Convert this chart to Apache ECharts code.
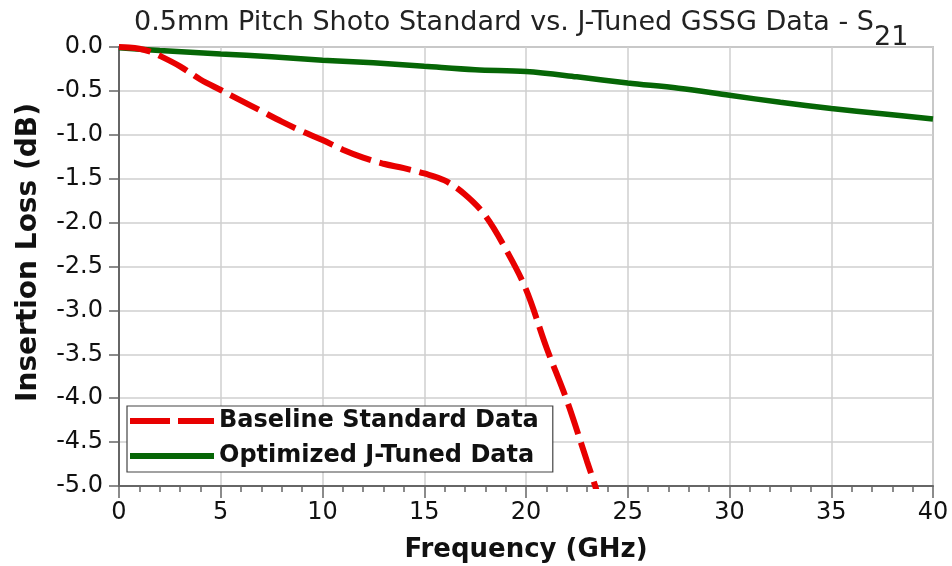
<!DOCTYPE html>
<html>
<head>
<meta charset="utf-8">
<script src="https://cdn.jsdelivr.net/npm/echarts@6/dist/echarts.min.js"></script>
<style>
html,body{margin:0;padding:0;background:#fff;}
#chart{width:952px;height:566px;}
</style>
</head>
<body>
<div id="chart"></div>
<script>
// Data
const baselineFreq = [0, 0.5, 1, 1.5, 2, 3, 4, 5, 6, 7, 8, 9, 10, 11, 12, 13, 14, 15, 16, 17, 18, 19, 20, 21, 22, 23, 23.4, 23.7];
const baselineLoss = [0, -0.005, -0.02, -0.05, -0.1, -0.22, -0.37, -0.49, -0.61, -0.73, -0.85, -0.96, -1.06, -1.17, -1.26, -1.33, -1.38, -1.44, -1.52, -1.68, -1.92, -2.3, -2.76, -3.42, -4.02, -4.72, -5.0, -5.25];
const optimizedFreq = [0, 2, 5, 7.5, 10, 12.5, 15, 17.5, 20, 22.5, 25, 27.5, 30, 32.5, 35, 37.5, 40];
const optimizedLoss = [-0.01, -0.04, -0.08, -0.11, -0.15, -0.18, -0.22, -0.26, -0.28, -0.34, -0.41, -0.47, -0.55, -0.63, -0.70, -0.76, -0.82];
const seriesNames = ['Baseline Standard Data', 'Optimized J-Tuned Data'];
const titleMain = '0.5mm Pitch Shoto Standard vs. J-Tuned GSSG Data - S';
const titleSub = '21';
const xName = 'Frequency (GHz)';
const yName = 'Insertion Loss (dB)';

const zip = (xs, ys) => xs.map((x, i) => [x, ys[i]]);
const FONT = '"DejaVu Sans", "Liberation Sans", Arial, sans-serif';
const RED = '#e80000';
const GREEN = '#066606';

const chart = echarts.init(document.getElementById('chart'));
chart.setOption({
  backgroundColor: '#fff',
  animation: false,
  title: {
    text: '{m|' + titleMain + '}{s|' + titleSub + '}',
    left: 129, top: 4,
    textStyle: {
      rich: {
        m: {fontFamily: FONT, fontSize: 27, color: '#222', fontWeight: 'normal', lineHeight: 32, verticalAlign: 'top'},
        s: {fontFamily: FONT, fontSize: 27, color: '#222', fontWeight: 'normal', lineHeight: 32, verticalAlign: 'top', padding: [15, 0, 0, 0]}
      }
    }
  },
  grid: {left: 119, right: 19, top: 47, bottom: 80, show: true, borderColor: '#999', borderWidth: 1.5,
         containLabel: false, outerBoundsMode: 'none'},
  legend: {
    orient: 'vertical', left: 127, top: 406,
    backgroundColor: '#fff',
    borderColor: '#444', borderWidth: 1.2,
    padding: [1, 14, 2, 0],
    itemWidth: 84, itemHeight: 14, itemGap: 7,
    textStyle: {fontFamily: FONT, fontSize: 24, fontWeight: 'bold', color: '#111', lineHeight: 28},
    data: [
      {name: seriesNames[0], itemStyle: {opacity: 0, borderWidth: 0}, lineStyle: {color: RED, width: 6, type: [40, 8], cap: 'butt'}},
      {name: seriesNames[1], itemStyle: {opacity: 0, borderWidth: 0}, lineStyle: {color: GREEN, width: 6, type: 'solid'}}
    ]
  },
  xAxis: {
    type: 'value', min: 0, max: 40, interval: 5,
    name: xName, nameLocation: 'middle', nameGap: 51,
    nameTextStyle: {fontFamily: FONT, fontSize: 26, fontWeight: 'bold', color: '#111'},
    axisLine: {show: true, onZero: false, lineStyle: {color: '#666', width: 2}},
    axisTick: {show: true, length: 12, lineStyle: {color: '#666', width: 1.5}},
    minorTick: {show: true, splitNumber: 5, length: 6, lineStyle: {color: '#666', width: 1.5}},
    axisLabel: {fontFamily: FONT, fontSize: 24, color: '#111', margin: 15},
    splitLine: {show: true, lineStyle: {color: '#cfcfcf', width: 1.5}}
  },
  yAxis: {
    type: 'value', min: -5, max: 0, interval: 0.5,
    name: yName, nameLocation: 'middle', nameGap: 76, nameRotate: 90,
    nameTextStyle: {fontFamily: FONT, fontSize: 28, fontWeight: 'bold', color: '#111', padding: [0, 0, 0, 28]},
    axisLine: {show: true, onZero: false, lineStyle: {color: '#666', width: 2}},
    axisTick: {show: true, length: 10, lineStyle: {color: '#666', width: 1.5}},
    axisLabel: {fontFamily: FONT, fontSize: 24, color: '#111', margin: 16, formatter: v => (Math.abs(v) < 1e-9 ? 0 : v).toFixed(1)},
    splitLine: {show: true, lineStyle: {color: '#cfcfcf', width: 1.5}}
  },
  series: [
    {
      name: seriesNames[0], type: 'line', data: zip(baselineFreq, baselineLoss),
      smooth: 0.35, showSymbol: false, symbol: 'none', clip: true, z: 3,
      itemStyle: {color: RED},
      lineStyle: {color: RED, width: 6, type: [32, 9], cap: 'butt'}
    },
    {
      name: seriesNames[1], type: 'line', data: zip(optimizedFreq, optimizedLoss),
      smooth: 0.35, showSymbol: false, symbol: 'none', clip: true, z: 2,
      itemStyle: {color: GREEN},
      lineStyle: {color: GREEN, width: 5.5}
    }
  ]
});
</script>
</body>
</html>
